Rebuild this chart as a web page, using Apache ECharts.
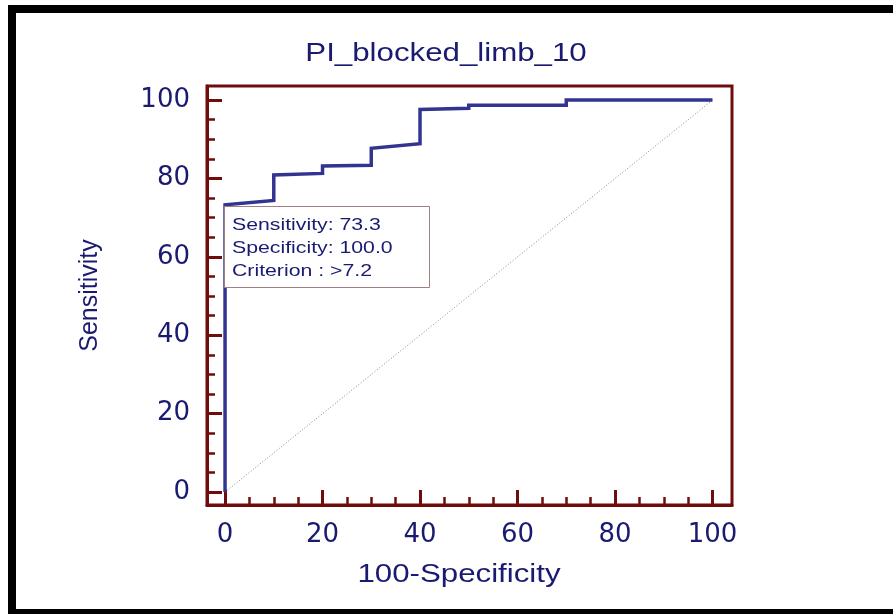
<!DOCTYPE html>
<html>
<head>
<meta charset="utf-8">
<script src="https://cdn.jsdelivr.net/npm/echarts@6/dist/echarts.min.js"></script>
<style>
  html, body { margin: 0; padding: 0; background: #fff; }
  #main { width: 893px; height: 614px; }
</style>
</head>
<body>
<div id="main"></div>
<script>
// ROC 曲线数据 (100-特异度, 敏感度)
var fpr = [0, 0, 10, 10, 20, 20, 30, 30, 40, 40, 50, 50, 70, 70, 100];
var tpr = [0, 73.3, 74.4, 80.9, 81.3, 83.2, 83.4, 87.7, 88.9, 97.6, 97.9, 98.7, 98.7, 100, 100];
// 参考对角线
var diagX = [0, 100];
var diagY = [0, 100];
// 刻度
var majorTicks = [0, 20, 40, 60, 80, 100];
var minorTicks = [5, 10, 15, 25, 30, 35, 45, 50, 55, 65, 70, 75, 85, 90, 95];
// 最佳截断点
var cutX = 0;
var cutY = 73.3;
var boxLines = ['Sensitivity: 73.3', 'Specificity: 100.0', 'Criterion : >7.2'];

var navy = '#1a1a70';
var maroon = '#700c0c';

function pairs(xs, ys) {
	var out = [];
	for (var i = 0; i < xs.length; i++) out.push([xs[i], ys[i]]);
	return out;
}

var myChart = echarts.init(document.getElementById('main'));

var xRange = { min: -3.7, max: 104 };
var yRange = { min: -3.3, max: 103.6 };

function mkAxis(range, major, extra) {
	var ax = {
		type: 'value',
		min: range.min,
		max: range.max,
		splitLine: { show: false },
		axisLine: { show: major, onZero: false, lineStyle: { color: maroon, width: 3 } },
		axisTick: {
			show: true,
			inside: true,
			length: major ? 15 : 8,
			customValues: major ? majorTicks : minorTicks,
			lineStyle: { color: maroon, width: major ? 3 : 2.5 }
		},
		axisLabel: major ? {
			customValues: majorTicks,
			color: navy,
			fontFamily: 'DejaVu Sans',
			fontSize: 26,
			margin: 17
		} : { show: false }
	};
	for (var k in extra) ax[k] = extra[k];
	return ax;
}

var option = {
	animation: false,
	backgroundColor: '#fff',
	grid: {
		left: 207,
		top: 86,
		right: 161,
		bottom: 109,
		show: true,
		borderColor: maroon,
		borderWidth: 3,
		backgroundColor: 'transparent'
	},
	xAxis: [
		mkAxis(xRange, true, { position: 'bottom' }),
		mkAxis(xRange, false, { position: 'bottom' })
	],
	yAxis: [
		mkAxis(yRange, true, {
			position: 'left',
			name: 'Sensitivity',
			nameLocation: 'middle',
			nameGap: 104,
			nameTextStyle: { color: navy, fontFamily: 'Liberation Sans', fontSize: 25 }
		}),
		mkAxis(yRange, false, { position: 'left' })
	],
	series: [
		{
			name: 'diag',
			type: 'line',
			data: pairs(diagX, diagY),
			symbol: 'none',
			lineStyle: { color: '#888', width: 1, type: [1, 2] },
			z: 1
		},
		{
			name: 'ROC',
			type: 'line',
			data: pairs(fpr, tpr),
			symbol: 'none',
			lineStyle: { color: '#333391', width: 3.5, join: 'miter' },
			z: 3
		}
	]
};
myChart.setOption(option);

// 外框、标题和说明框
var p = myChart.convertToPixel({ xAxisIndex: 0, yAxisIndex: 0 }, [cutX, cutY]);
var bx = Math.round(p[0]) - 1, by = Math.round(p[1]) + 1;
var graphics = [
	{ type: 'rect', shape: { x: 8, y: 5, width: 8, height: 609 }, style: { fill: '#000' }, z: 100 },
	{ type: 'rect', shape: { x: 8, y: 5, width: 885, height: 8 }, style: { fill: '#000' }, z: 100 },
	{ type: 'rect', shape: { x: 8, y: 609, width: 885, height: 5 }, style: { fill: '#000' }, z: 100 },
	{
		type: 'text', x: 446, y: 54, scaleX: 1.25, originX: 0, originY: 0,
		style: { text: 'PI_blocked_limb_10', fill: navy, font: '25px "Liberation Sans"', align: 'center', verticalAlign: 'middle' }
	},
	{
		type: 'text', x: 459, y: 575, scaleX: 1.25, originX: 0, originY: 0,
		style: { text: '100-Specificity', fill: navy, font: '25px "Liberation Sans"', align: 'center', verticalAlign: 'middle' }
	},
	{
		type: 'rect', shape: { x: bx + 0.5, y: by + 0.5, width: 205, height: 81 },
		style: { fill: '#fff', stroke: '#a08080', lineWidth: 1 }, z: 50
	}
];
for (var i = 0; i < boxLines.length; i++) {
	graphics.push({
		type: 'text', x: bx + 8, y: by + 19 + i * 23.3, scaleX: 1.25, z: 51,
		style: { text: boxLines[i], fill: navy, font: '17px "Liberation Sans"', align: 'left', verticalAlign: 'middle' }
	});
}
myChart.setOption({ graphic: graphics });

window.addEventListener('resize', function() {
	myChart.resize();
});
</script>
</body>
</html>
